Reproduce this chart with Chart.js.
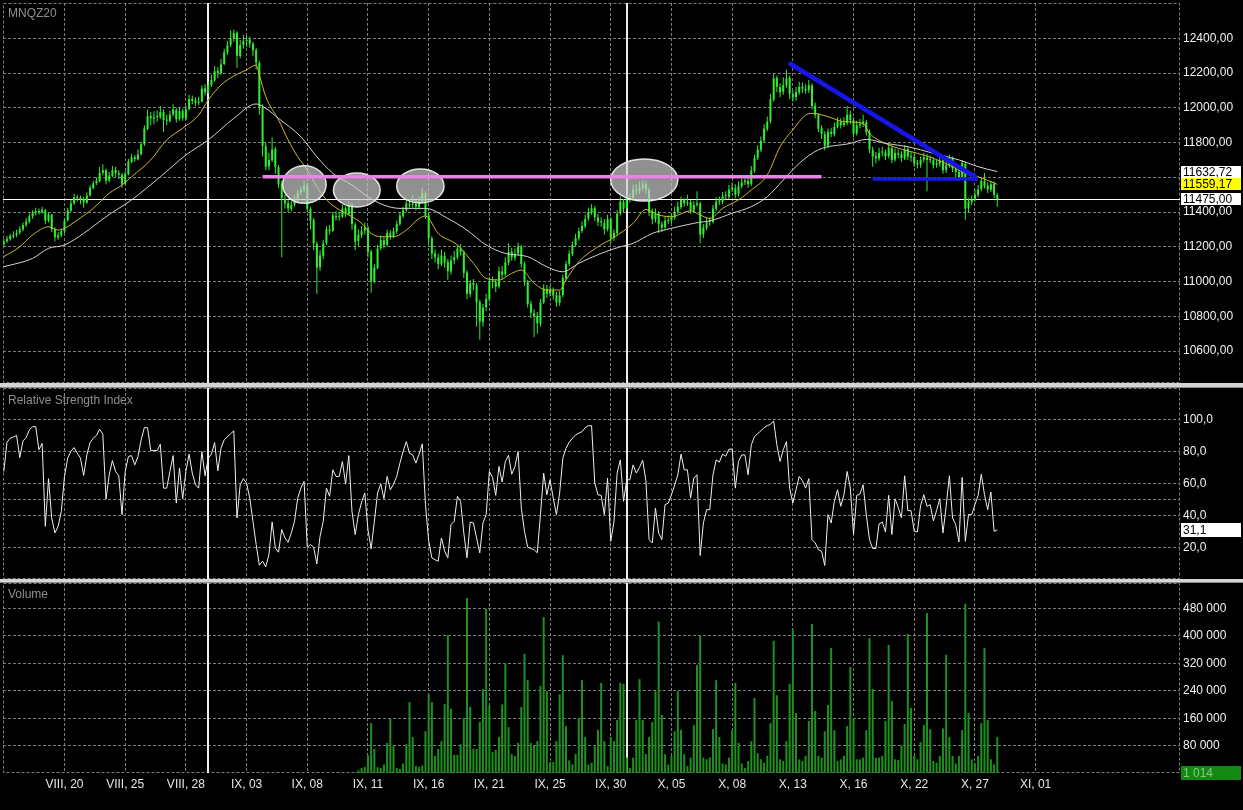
<!DOCTYPE html>
<html><head><meta charset="utf-8">
<script src="https://cdn.jsdelivr.net/npm/chart.js@4.4.1/dist/chart.umd.min.js"></script>
<style>
html,body{margin:0;padding:0;background:#000;}
body{width:1243px;height:810px;position:relative;overflow:hidden;font-family:'Liberation Sans',Arial,sans-serif;}
canvas{position:absolute;left:0;}
#c1{top:0}
#c2{top:388px}
#c3{top:583px}
.sep{position:absolute;left:0;width:1243px;background:#d4d4d4;border-bottom:1px solid #8a8a8a;box-sizing:border-box}
.ttl{position:absolute;left:8px;color:#8e8e8e;font-size:12px;line-height:14px}
</style></head>
<body>
<canvas id="c1" width="1243" height="383"></canvas>
<div class="sep" style="top:383px;height:5px"></div>
<canvas id="c2" width="1243" height="191"></canvas>
<div class="sep" style="top:579px;height:4px"></div>
<canvas id="c3" width="1243" height="227"></canvas>
<div class="ttl" style="top:6px">MNQZ20</div>
<div class="ttl" style="top:393px">Relative Strength Index</div>
<div class="ttl" style="top:587px">Volume</div>
<script>
// ---------------- DATA ----------------
const symbol = 'MNQZ20';
const xTickLabels = ['VIII, 20','VIII, 25','VIII, 28','IX, 03','IX, 08','IX, 11','IX, 16','IX, 21','IX, 25','IX, 30','X, 05','X, 08','X, 13','X, 16','X, 22','X, 27','XI, 01'];
const xTickBars = [19,38,57,76,95,114,133,152,171,190,209,228,247,266,285,304,323];
const priceTicks = [10600,10800,11000,11200,11400,11600,11800,12000,12200,12400];
const rsiTicks = [20,40,50,60,80,100];
const volumeTicks = [80000,160000,240000,320000,400000,480000];
const sessionBars = [64,195];

const opens = [11215,11232,11244,11260,11270,11282,11300,11326,11344,11376,
11394,11406,11398,11410,11352,11384,11302,11254,11266,11288,
11352,11408,11452,11486,11478,11476,11454,11496,11538,11566,
11578,11626,11640,11582,11608,11642,11624,11614,11562,11618,
11688,11716,11704,11732,11790,11878,11952,11938,11946,11948,
11976,11932,11924,11962,11988,11936,11982,11938,11992,12052,
12042,12028,12036,12112,12088,12132,12158,12212,12198,12252,
12318,12362,12398,12432,12298,12362,12384,12392,12368,12332,
12258,12002,11778,11662,11698,11762,11658,11562,11478,11452,
11418,11442,11468,11512,11528,11552,11418,11352,11218,11082,
11148,11222,11298,11292,11378,11372,11374,11422,11388,11442,
11328,11232,11268,11292,11308,11172,11002,11078,11192,11238,
11212,11278,11262,11288,11332,11378,11412,11448,11442,11447,
11428,11462,11508,11382,11248,11162,11138,11102,11148,11112,
11058,11122,11138,11192,11168,11052,10928,10992,10978,10882,
10768,10852,10898,11002,10998,10972,11058,11042,11108,11172,
11138,11162,11198,11102,10998,10872,10818,10802,10758,10882,
10958,10932,10948,10922,10878,10922,11018,11102,11158,11212,
11248,11292,11318,11362,11398,11422,11368,11347,11338,11302,
11358,11252,11278,11392,11458,11422,11468,11482,11528,11522,
11538,11562,11528,11402,11358,11392,11328,11312,11348,11352,
11368,11402,11428,11472,11448,11457,11408,11442,11448,11272,
11308,11342,11343,11418,11462,11458,11492,11488,11532,11538,
11502,11548,11572,11578,11562,11638,11712,11758,11812,11878,
11922,12048,12172,12118,12092,12128,12172,12078,12062,12088,
12122,12108,12102,12128,12012,11958,11882,11848,11782,11862,
11848,11892,11918,11902,11913,11962,11928,11852,11898,11907,
11918,11862,11758,11722,11708,11742,11743,11722,11768,11702,
11738,11732,11708,11762,11718,11717,11682,11673,11702,11713,
11702,11698,11672,11678,11697,11642,11668,11712,11648,11632,
11602,11678,11422,11458,11472,11498,11532,11578,11552,11528,
11562,11498];

const highs = [11245,11262,11275,11290,11298,11318,11340,11365,11392,11410,
11425,11420,11430,11418,11398,11390,11312,11285,11305,11365,
11425,11470,11505,11500,11495,11488,11512,11556,11580,11598,
11660,11675,11650,11630,11665,11660,11640,11625,11635,11705,
11735,11728,11760,11805,11900,11990,11975,11980,11985,12010,
11990,11960,11985,12020,12000,12000,11995,12010,12075,12070,
12060,12065,12130,12135,12150,12190,12240,12235,12280,12340,
12385,12445,12450,12440,12390,12420,12415,12410,12380,12345,
12270,12020,11800,11740,11830,11775,11670,11580,11500,11470,
11465,11495,11530,11550,11580,11565,11430,11365,11230,11180,
11240,11320,11325,11400,11405,11400,11440,11435,11460,11450,
11340,11300,11320,11340,11320,11185,11100,11210,11265,11255,
11300,11295,11310,11350,11400,11430,11470,11475,11500,11470,
11490,11540,11520,11395,11260,11185,11160,11185,11170,11130,
11150,11175,11210,11215,11180,11065,11010,11015,10990,10895,
10870,10930,11025,11030,11015,11085,11090,11140,11220,11195,
11190,11225,11210,11115,11010,10890,10840,10825,10900,10985,
10980,10975,10965,10940,10945,11040,11120,11180,11230,11275,
11310,11345,11385,11425,11445,11435,11390,11370,11360,11385,
11370,11300,11410,11490,11475,11500,11505,11560,11560,11575,
11580,11575,11540,11420,11420,11405,11345,11375,11380,11395,
11430,11460,11490,11480,11500,11470,11465,11520,11460,11330,
11365,11370,11440,11485,11490,11515,11520,11555,11570,11560,
11575,11595,11605,11600,11665,11730,11785,11835,11905,11950,
12080,12200,12185,12140,12175,12220,12185,12100,12120,12150,
12145,12135,12160,12140,12030,11970,11900,11865,11880,11885,
11915,11945,11940,11945,12010,11985,11945,11925,11935,11960,
11930,11875,11775,11745,11770,11775,11760,11795,11780,11765,
11760,11750,11785,11775,11745,11735,11700,11720,11740,11735,
11725,11715,11700,11720,11710,11695,11730,11720,11660,11645,
11700,11690,11480,11495,11530,11555,11600,11625,11570,11580,
11575,11510];

const lows = [11200,11222,11235,11248,11255,11270,11290,11315,11335,11362,
11380,11385,11390,11330,11340,11285,11230,11240,11255,11280,
11345,11400,11440,11462,11445,11425,11448,11488,11530,11555,
11570,11612,11560,11572,11600,11600,11590,11540,11555,11610,
11680,11690,11698,11725,11780,11870,11900,11905,11920,11935,
11860,11900,11915,11950,11915,11925,11925,11930,11985,12020,
12010,12015,12030,12070,12080,12120,12150,12170,12190,12245,
12305,12350,12380,12230,12285,12340,12350,12345,12300,12220,
11960,11720,11640,11640,11690,11620,11540,11140,11420,11400,
11405,11430,11455,11495,11515,11400,11300,11180,10930,11060,
11130,11210,11270,11285,11350,11350,11365,11370,11380,11300,
11180,11200,11250,11270,11140,10935,10990,11070,11180,11190,
11200,11240,11250,11275,11320,11365,11400,11425,11425,11410,
11415,11450,11360,11220,11130,11110,11070,11090,11080,11010,
11040,11100,11125,11150,11020,10900,10910,10950,10740,10665,
10740,10830,10885,10960,10940,10960,11010,11030,11095,11120,
11120,11150,11080,10975,10850,10790,10680,10700,10740,10870,
10905,10915,10895,10855,10860,10910,11005,11090,11145,11200,
11235,11280,11305,11350,11385,11350,11320,11315,11270,11290,
11220,11235,11265,11380,11400,11410,11455,11470,11500,11505,
11520,11505,11375,11330,11340,11280,11285,11295,11330,11335,
11355,11390,11415,11430,11435,11390,11395,11430,11220,11250,
11295,11320,11335,11405,11440,11445,11470,11475,11515,11480,
11490,11535,11555,11540,11550,11625,11700,11745,11800,11865,
11910,12035,12090,12060,12075,12115,12050,12035,12040,12075,
12085,12080,12085,11990,11940,11860,11820,11755,11770,11830,
11835,11880,11880,11890,11900,11905,11830,11840,11880,11890,
11840,11740,11660,11680,11695,11720,11700,11710,11680,11690,
11710,11690,11700,11700,11690,11660,11650,11655,11685,11520,
11680,11650,11655,11660,11620,11625,11655,11630,11600,11580,
11590,11355,11400,11440,11460,11485,11520,11535,11510,11515,
11480,11430];

const closes = [11230,11245,11262,11268,11280,11300,11325,11345,11375,11395,
11405,11400,11412,11350,11385,11300,11255,11265,11290,11350,
11410,11450,11485,11480,11475,11455,11495,11540,11565,11580,
11625,11640,11580,11610,11640,11625,11615,11560,11620,11690,
11715,11705,11730,11790,11880,11950,11940,11945,11950,11975,
11930,11925,11960,11990,11935,11980,11940,11990,12050,12040,
12030,12035,12110,12090,12130,12160,12210,12200,12250,12320,
12360,12400,12430,12300,12360,12385,12390,12370,12330,12260,
12000,11780,11660,11700,11760,11660,11560,11480,11450,11420,
11440,11470,11510,11530,11550,11420,11350,11220,11080,11150,
11220,11300,11290,11380,11370,11375,11420,11390,11440,11330,
11230,11270,11290,11310,11170,11000,11080,11190,11240,11210,
11280,11260,11290,11330,11380,11410,11450,11440,11445,11430,
11460,11510,11380,11250,11160,11140,11100,11150,11110,11060,
11120,11140,11190,11170,11050,10930,10990,10980,10880,10770,
10850,10900,11000,11000,10970,11060,11040,11110,11170,11140,
11160,11200,11100,11000,10870,10820,10800,10760,10880,10960,
10930,10950,10920,10880,10920,11020,11100,11160,11210,11250,
11290,11320,11360,11400,11420,11370,11345,11340,11300,11360,
11250,11280,11390,11460,11420,11470,11480,11530,11520,11540,
11560,11530,11400,11360,11390,11330,11310,11350,11350,11370,
11400,11430,11470,11450,11455,11410,11440,11450,11270,11310,
11340,11345,11420,11460,11460,11490,11490,11530,11540,11500,
11550,11570,11580,11560,11640,11710,11760,11810,11880,11920,
12050,12170,12120,12090,12130,12170,12080,12060,12090,12120,
12110,12100,12130,12010,11960,11880,11850,11780,11860,11850,
11890,11920,11900,11915,11960,11930,11850,11900,11905,11920,
11860,11760,11720,11710,11740,11745,11720,11770,11700,11740,
11730,11710,11760,11720,11715,11680,11675,11700,11715,11700,
11700,11670,11680,11695,11640,11670,11710,11650,11630,11600,
11680,11420,11460,11470,11500,11530,11580,11550,11530,11560,
11500,11475];

// moving averages: [bar, value]
const maFast = [[0,11143],[5,11200],[9,11268],[14,11315],[17,11296],[19,11306],[23,11354],[28,11421],[33,11508],[37,11555],[40,11603],[46,11700],[51,11815],[56,11882],[61,11958],[64,12045],[68,12131],[72,12183],[76,12218],[79,12246],[80,12189],[82,12064],[86,11930],[89,11815],[92,11718],[95,11642],[98,11546],[101,11470],[105,11413],[109,11373],[112,11335],[115,11277],[118,11258],[122,11258],[126,11296],[130,11363],[132,11377],[136,11277],[142,11210],[147,11105],[151,11018],[155,11009],[159,11047],[162,11066],[166,10990],[170,10951],[174,10951],[176,11009],[180,11114],[186,11200],[191,11254],[197,11335],[201,11415],[205,11383],[209,11373],[215,11407],[218,11383],[221,11363],[225,11421],[230,11470],[234,11527],[239,11613],[243,11776],[247,11873],[251,11958],[253,11968],[258,11949],[263,11920],[269,11910],[271,11853],[276,11795],[280,11767],[286,11738],[291,11709],[296,11670],[301,11623],[305,11603],[311,11559.17]];
const maSlow = [[0,11085],[9,11133],[14,11191],[19,11210],[25,11277],[32,11373],[40,11470],[49,11603],[57,11728],[64,11815],[72,11939],[79,12022],[82,11997],[86,11939],[93,11833],[98,11718],[103,11623],[109,11555],[114,11488],[119,11440],[124,11421],[132,11421],[139,11363],[145,11296],[151,11210],[157,11162],[164,11143],[170,11085],[175,11056],[180,11105],[187,11162],[193,11200],[197,11220],[203,11277],[209,11306],[216,11335],[222,11354],[228,11393],[234,11431],[239,11488],[244,11584],[249,11680],[255,11758],[265,11795],[270,11818],[276,11795],[283,11776],[291,11738],[299,11700],[305,11661],[311,11632.72]];

const rsi = [67.5,85.7,88.2,89,89.9,76.2,86.5,88.6,93.4,95.4,
95.4,81,85,33.3,63,38.5,29.2,33.3,42.6,64.4,
75.8,80,82.4,78.9,75.8,65,77.8,85.5,88.2,89.9,
93.8,90.7,50.3,65.4,74.3,67.5,64.8,40.6,67.5,76.8,
77.4,71.6,76.8,87.2,94.8,94.8,80.5,80.5,80.5,84.5,
57.1,57.1,67.5,77.4,47.8,69.6,50.5,67.5,78.3,66.5,
59.2,57.1,79.9,64.8,75.8,78.3,85.5,67.9,82,87.2,
89.2,91,92.8,38.5,59.2,63,60.2,50.9,36.4,22,
9.1,11.6,8.1,15.7,36,19.9,17.2,31.3,26.1,23.4,
29.2,36.4,50.9,57.1,61.3,20.3,22,20.3,9.9,27.1,
36.4,57.1,52,68.5,64.4,64.4,73.7,59.6,77.4,42.6,
28.2,40.6,48.4,54,31.3,19.3,36.4,54,59.8,50.5,
64.4,56.1,59.6,64.4,72.7,80,86.1,78.9,77.8,72.7,
78.3,84.7,46.8,24.4,13.7,12.5,11.6,26.1,17.8,13.7,
34.4,36.4,52,48.9,29.2,13.7,36,35.4,26.1,16.8,
35.4,40.6,67.5,63.8,52.6,70.6,60.9,73.7,77.6,65.8,
70.6,79.9,44.7,30.2,20.3,19.5,18.8,16.8,40.6,66.5,
53,62.3,50.9,40.6,54,75.8,82,85.7,88.2,90.3,
91.3,92.3,94.8,96,96,60.2,53,52.6,40.6,63.4,
24,36,66.5,74.7,48.9,62.3,62.3,71.6,66.5,70,
74.5,61.7,25,23,44.7,29.2,25,46.8,47.8,53,
59,65.4,78.3,68.5,68.5,50.9,63.4,65.4,15.1,35.4,
43.7,43.7,65.4,74.7,73.3,78.3,77,81.4,81.4,57.1,
73.7,77.8,77.8,65.4,84.1,89.2,91,92.8,94.8,96,
96.9,99,84.1,73.7,81,86.1,57.1,47.8,56.1,64.4,
61.7,57.1,63,25,23,18.8,17.8,8.9,40.6,35.4,
48.9,56.1,45.8,53,67.5,57.1,28.2,52.6,53.4,59.2,
40.6,25,19.5,19.5,34.8,36,29.8,52.6,28.2,50.5,
45.1,38.5,64.8,43.1,43.1,30.2,29.8,46.4,53,45.8,
46.8,36.8,43.1,50.5,29.2,45.8,64.8,38.5,34.4,23.6,
63.8,24,40.6,40.6,46.8,52.6,65.8,53,43.7,54.7,
30.2,31.1];

const volumeStartBar = 111;
const volume = [8000,15000,
18000,52000,146000,70000,17000,15000,25000,88000,158000,80000,
15000,12000,28000,84000,207000,105000,20000,18000,22000,122000,
230000,207000,50000,70000,93000,201000,403000,187000,53000,53000,
84000,160000,511000,193000,70000,70000,149000,245000,479000,197000,
61000,67000,105000,200000,321000,134000,55000,50000,88000,193000,
348000,271000,88000,80000,93000,254000,455000,239000,32000,32000,
93000,230000,344000,137000,37000,25000,56000,158000,271000,105000,
25000,30000,78000,126000,263000,93000,20000,105000,93000,155000,
263000,260000,45000,15000,45000,155000,274000,155000,55000,105000,
149000,239000,442000,170000,55000,25000,50000,122000,239000,126000,
55000,20000,45000,140000,315000,403000,45000,40000,45000,128000,
271000,105000,28000,25000,45000,125000,263000,88000,28000,15000,
35000,93000,219000,58000,40000,30000,50000,146000,386000,227000,
40000,35000,93000,260000,418000,175000,40000,35000,50000,152000,
435000,181000,50000,45000,122000,199000,365000,125000,35000,40000,
50000,137000,310000,160000,40000,40000,45000,125000,394000,245000,
44000,45000,50000,152000,374000,210000,40000,38000,80000,143000,
406000,190000,50000,40000,90000,140000,467000,128000,35000,30000,
50000,130000,345000,105000,50000,28000,50000,125000,494000,175000,
40000,28000,50000,146000,365000,155000,40000,25000,105000];
const currentBarVolume = 1014;

// drawn annotations (in bar / price units)
const supportLevel = {fromBar: 81, toBar: 256, price: 11603};
const trendLine = [[246.3, 12252], [304, 11603]];
const triangleBase = [[272.4, 11590], [304.2, 11590]];
const highlightZones = [
  {bar: 94.1, price: 11558, halfBars: 6.8, halfPrice: 108},
  {bar: 110.5, price: 11527, halfBars: 7.3, halfPrice: 98},
  {bar: 130.4, price: 11550, halfBars: 7.4, halfPrice: 98},
  {bar: 200.5, price: 11584, halfBars: 10.5, halfPrice: 121}
];

// ---------------- STYLE / LAYOUT ----------------
const X_MIN = -0.25, X_MAX = 368.2;
const GRID = '#7c7c7c';
const DASH = [3, 2];
const FONT = "'Liberation Sans', Arial, sans-serif";
Chart.defaults.font.family = FONT;
Chart.defaults.font.size = 12;
Chart.defaults.color = '#f0f0f0';

const comma = (v, d) => v.toFixed(d).replace('.', ',');

function xAxis(showLabels) {
  return {
    type: 'linear', min: X_MIN, max: X_MAX, offset: false,
    grid: {color: GRID, lineWidth: 1, drawTicks: false, offset: false},
    border: {display: false, dash: DASH},
    ticks: {display: showLabels, autoSkip: false, maxRotation: 0, minRotation: 0, padding: 4, color: '#e6e6e6',
      callback: (v, i) => xTickLabels[i]},
    afterBuildTicks: s => { s.ticks = xTickBars.map(v => ({value: v})); },
    afterFit: s => { s.height = showLabels ? 37 : 0; s.paddingLeft = 0; s.paddingRight = 0; }
  };
}
function yAxis(min, max, ticks, fmt) {
  return {
    position: 'right', min, max, beginAtZero: false,
    grid: {color: GRID, lineWidth: 1, drawTicks: false},
    border: {display: false, dash: DASH},
    ticks: {padding: 3, color: '#f2f2f2', autoSkip: false, callback: fmt},
    afterBuildTicks: s => { s.ticks = ticks.map(v => ({value: v})); },
    afterFit: s => { s.width = 63; s.paddingTop = 0; s.paddingBottom = 0; }
  };
}
const baseOpts = {
  responsive: false, animation: false, devicePixelRatio: 1, events: [],
  plugins: {legend: {display: false}, tooltip: {enabled: false}}
};

const panelFrame = {
  id: 'panelFrame',
  beforeDatasetsDraw(chart) {
    const {ctx, chartArea: a, scales: {x}} = chart;
    ctx.save();
    ctx.strokeStyle = GRID; ctx.lineWidth = 1; ctx.setLineDash(DASH);
    ctx.beginPath();
    ctx.moveTo(a.left + 0.5, a.top + 0.5); ctx.lineTo(a.right - 0.5, a.top + 0.5);
    ctx.lineTo(a.right - 0.5, a.bottom - 0.5); ctx.lineTo(a.left + 0.5, a.bottom - 0.5);
    ctx.closePath(); ctx.stroke();
    ctx.setLineDash([]);
    ctx.strokeStyle = '#ededed'; ctx.lineWidth = 2;
    sessionBars.forEach(b => {
      const px = Math.round(x.getPixelForValue(b));
      ctx.beginPath(); ctx.moveTo(px, a.top); ctx.lineTo(px, a.bottom); ctx.stroke();
    });
    ctx.restore();
  }
};

function valueBox(chart, value, text, bg, fg, h) {
  const {ctx, chartArea: a, scales: {y}} = chart;
  const py = Math.round(y.getPixelForValue(value));
  ctx.save();
  ctx.fillStyle = bg;
  ctx.fillRect(a.right + 1, py - h / 2, 60, h);
  ctx.fillStyle = fg;
  ctx.font = '12px ' + FONT;
  ctx.textAlign = 'left'; ctx.textBaseline = 'middle';
  ctx.fillText(text, a.right + 3, py + 0.5);
  ctx.restore();
}

// ---------------- PRICE PANEL ----------------
const lastClose = closes[closes.length - 1];
const lastFast = maFast[maFast.length - 1][1];
const lastSlow = maSlow[maSlow.length - 1][1];

const priceDecor = {
  id: 'priceDecor',
  beforeDatasetsDraw(chart) {
    const {ctx, chartArea: a, scales: {y}} = chart;
    const py = Math.round(y.getPixelForValue(lastClose)) + 0.5;
    ctx.save(); ctx.strokeStyle = '#ffffff'; ctx.lineWidth = 1.2;
    ctx.beginPath(); ctx.moveTo(a.left, py); ctx.lineTo(a.right, py); ctx.stroke();
    ctx.restore();
  },
  afterDatasetsDraw(chart) {
    const {ctx, scales: {x, y}} = chart;
    ctx.save();
    highlightZones.forEach(z => {
      const cx = x.getPixelForValue(z.bar), cy = y.getPixelForValue(z.price);
      const rx = Math.abs(x.getPixelForValue(z.bar + z.halfBars) - cx);
      const ry = Math.abs(y.getPixelForValue(z.price + z.halfPrice) - cy);
      ctx.beginPath(); ctx.ellipse(cx, cy, rx, ry, 0, 0, Math.PI * 2);
      ctx.fillStyle = 'rgba(205,205,205,0.70)'; ctx.fill();
      ctx.strokeStyle = 'rgba(235,235,235,0.95)'; ctx.lineWidth = 1.5; ctx.stroke();
    });
    // support level
    ctx.strokeStyle = '#ea82ea'; ctx.lineWidth = 3.5; ctx.lineCap = 'butt';
    const sy = y.getPixelForValue(supportLevel.price);
    ctx.beginPath(); ctx.moveTo(x.getPixelForValue(supportLevel.fromBar), sy);
    ctx.lineTo(x.getPixelForValue(supportLevel.toBar), sy); ctx.stroke();
    // descending triangle
    ctx.strokeStyle = '#1616e8'; ctx.lineWidth = 4.5; ctx.lineCap = 'round';
    ctx.beginPath();
    ctx.moveTo(x.getPixelForValue(trendLine[0][0]), y.getPixelForValue(trendLine[0][1]));
    ctx.lineTo(x.getPixelForValue(trendLine[1][0]), y.getPixelForValue(trendLine[1][1]));
    ctx.lineTo(x.getPixelForValue(triangleBase[1][0]), y.getPixelForValue(triangleBase[1][1]));
    ctx.stroke();
    ctx.lineWidth = 3.5;
    ctx.beginPath();
    ctx.moveTo(x.getPixelForValue(triangleBase[0][0]), y.getPixelForValue(triangleBase[0][1]));
    ctx.lineTo(x.getPixelForValue(triangleBase[1][0]), y.getPixelForValue(triangleBase[1][1]));
    ctx.stroke();
    ctx.restore();
  },
  afterDraw(chart) {
    valueBox(chart, lastSlow, comma(lastSlow, 2), '#ffffff', '#000000', 12);
    valueBox(chart, lastFast, comma(lastFast, 2), '#ffff00', '#000000', 12);
    valueBox(chart, lastClose, comma(lastClose, 2), '#ffffff', '#000000', 12);
  }
};

new Chart(document.getElementById('c1'), {
  type: 'bar',
  data: {datasets: [
    {type: 'line', data: maSlow.map(([b, v]) => ({x: b, y: v})), borderColor: '#d2d2d2', borderWidth: 1, pointRadius: 0, cubicInterpolationMode: 'monotone', order: 0},
    {type: 'line', data: maFast.map(([b, v]) => ({x: b, y: v})), borderColor: '#cdb92a', borderWidth: 1, pointRadius: 0, cubicInterpolationMode: 'monotone', order: 0},
    {type: 'bar', data: closes.map((c, i) => ({x: i, y: [lows[i], highs[i]]})), backgroundColor: '#30ee30', grouped: false, maxBarThickness: 1, order: 1},
    {type: 'bar', data: closes.map((c, i) => ({x: i, y: [opens[i], c]})), backgroundColor: '#30ee30', grouped: false, maxBarThickness: 2, minBarLength: 1, order: 1}
  ]},
  options: Object.assign({}, baseOpts, {
    layout: {padding: {left: 3, top: 3, right: 0, bottom: 0}},
    scales: {
      x: xAxis(false),
      y: yAxis(10416, 12603, priceTicks, v => comma(v, 2))
    }
  }),
  plugins: [panelFrame, priceDecor]
});

// ---------------- RSI PANEL ----------------
new Chart(document.getElementById('c2'), {
  type: 'line',
  data: {datasets: [
    {data: rsi.map((v, i) => ({x: i, y: v})), borderColor: '#eeeeee', borderWidth: 1, pointRadius: 0, tension: 0}
  ]},
  options: Object.assign({}, baseOpts, {
    layout: {padding: {left: 3, top: 0, right: 0, bottom: 0}},
    scales: {
      x: xAxis(false),
      y: yAxis(0.5, 119.5, rsiTicks, v => (v === 50 ? '' : comma(v, 1)))
    }
  }),
  plugins: [panelFrame, {
    id: 'rsiBox',
    afterDraw(chart) { const v = rsi[rsi.length - 1]; valueBox(chart, v, comma(v, 1), '#ffffff', '#000000', 14); }
  }]
});

// ---------------- VOLUME PANEL ----------------
const fmtVol = v => String(Math.round(v / 1000)) + ' 000';
new Chart(document.getElementById('c3'), {
  type: 'bar',
  data: {datasets: [
    {data: volume.map((v, k) => ({x: volumeStartBar + k, y: v})), backgroundColor: '#1e901e', grouped: false, maxBarThickness: 2}
  ]},
  options: Object.assign({}, baseOpts, {
    layout: {padding: {left: 3, top: 0, right: 0, bottom: 0}},
    scales: {
      x: xAxis(true),
      y: yAxis(0, 554700, volumeTicks, fmtVol)
    }
  }),
  plugins: [panelFrame, {
    id: 'volBox',
    afterDraw(chart) {
      valueBox(chart, currentBarVolume, '1 ' + String(currentBarVolume).slice(1), '#128a12', '#86c886', 14);
    }
  }]
});
</script>
</body></html>
